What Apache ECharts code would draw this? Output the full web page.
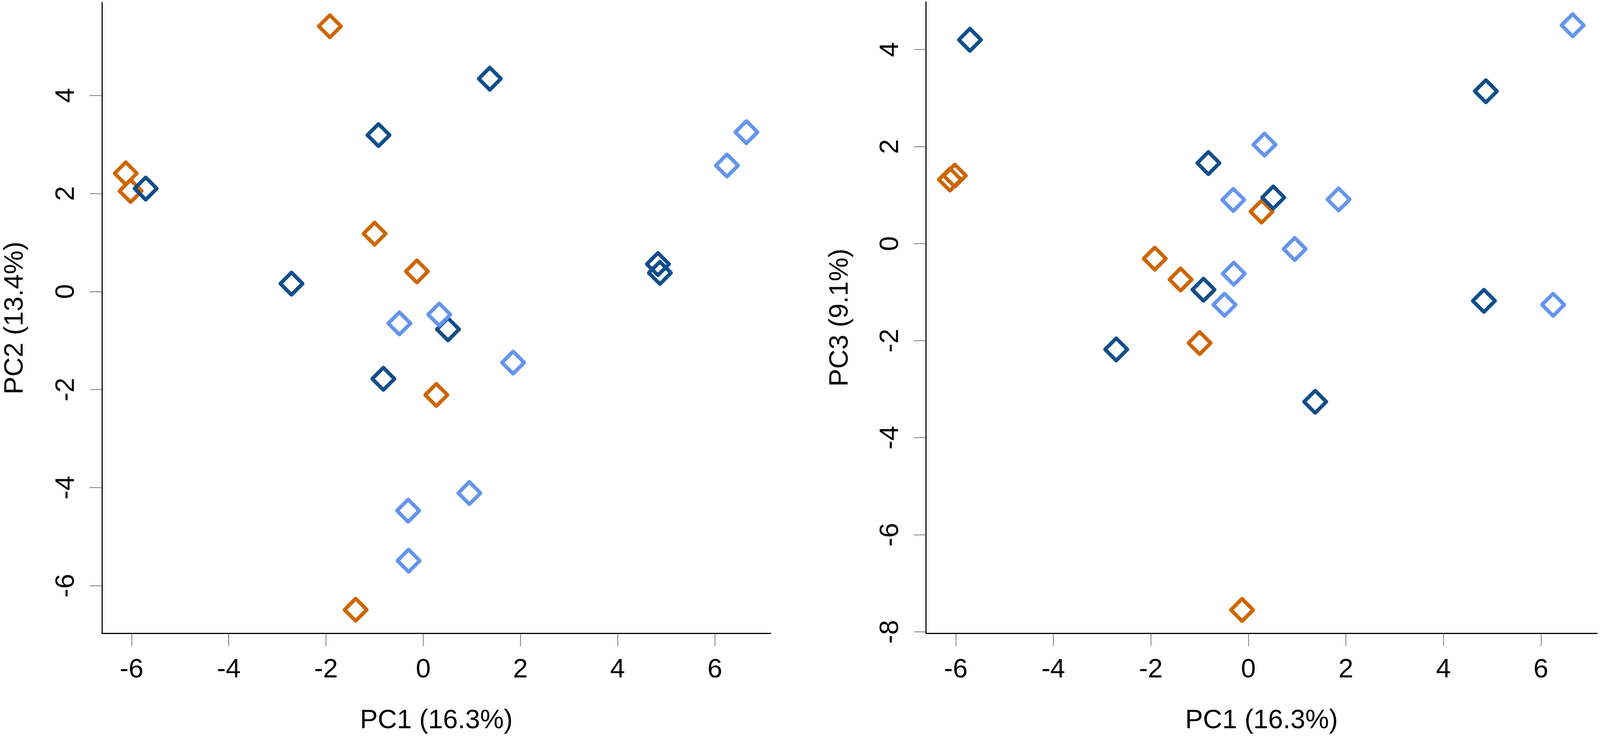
<!DOCTYPE html>
<html>
<head>
<meta charset="utf-8">
<script src="https://cdn.jsdelivr.net/npm/echarts@6/dist/echarts.min.js"></script>
<style>
  html, body { margin: 0; padding: 0; background: #fff; overflow: hidden; }
  #chart { width: 100vw; height: 100vh; }
</style>
</head>
<body>
<div id="chart"></div>
<script>
// PCA scores, one array per group and component
var orangePC1 = [-6.12, -6.02, -1.92, -1.39, -1.00, -0.13, 0.27];
var orangePC2 = [2.41, 2.05, 5.41, -6.49, 1.18, 0.41, -2.11];
var orangePC3 = [1.32, 1.40, -0.31, -0.74, -2.05, -7.55, 0.66];

var darkPC1 = [1.37, -0.92, -5.71, -2.71, 4.83, 4.87, 0.51, -0.82];
var darkPC2 = [4.34, 3.19, 2.10, 0.16, 0.56, 0.38, -0.77, -1.78];
var darkPC3 = [-3.26, -0.95, 4.20, -2.18, -1.18, 3.14, 0.95, 1.66];

var lightPC1 = [6.65, 6.25, -0.49, 0.33, 1.85, 0.95, -0.31, -0.30];
var lightPC2 = [3.25, 2.57, -0.65, -0.47, -1.45, -4.11, -4.47, -5.49];
var lightPC3 = [4.50, -1.26, -1.26, 2.04, 0.91, -0.11, 0.90, -0.62];

var xTicks = [-6, -4, -2, 0, 2, 4, 6];
var yTicksPC2 = [-6, -4, -2, 0, 2, 4];
var yTicksPC3 = [-8, -6, -4, -2, 0, 2, 4];

var chart = echarts.init(document.getElementById('chart'));

// layout was measured on a 4316x1888 picture, scale it to whatever viewport we get
var sx = chart.getWidth() / 4316;
var sy = chart.getHeight() / 1888;
var s = Math.min(sx, sy);

var font = 'Liberation Sans, Arial, Helvetica, sans-serif';
var fs = 72 * s;

function pairs(xs, ys) {
  var out = [];
  for (var i = 0; i < xs.length; i++) out.push([xs[i], ys[i]]);
  return out;
}

function xAxisOf(idx) {
  return {
    type: 'value', gridIndex: idx, min: -6.61, max: 7.15,
    name: 'PC1 (16.3%)', nameLocation: 'middle', nameGap: 190 * sy,
    nameTextStyle: { fontFamily: font, fontSize: fs, color: '#000' },
    axisLine: { show: true, onZero: false, lineStyle: { color: '#000', width: 3 * s } },
    axisTick: { show: true, length: 33 * sy, customValues: xTicks, lineStyle: { color: '#444', width: 1.5 * s } },
    axisLabel: { customValues: xTicks, margin: 60 * sy, fontFamily: font, fontSize: fs, color: '#000' },
    splitLine: { show: false }
  };
}

function yAxisOf(idx, min, max, ticks, title, gap) {
  return {
    type: 'value', gridIndex: idx, min: min, max: max,
    name: title, nameLocation: 'middle', nameGap: gap * sx,
    nameTextStyle: { fontFamily: font, fontSize: fs, color: '#000' },
    axisLine: { show: true, onZero: false, lineStyle: { color: '#000', width: 3 * s } },
    axisTick: { show: true, length: 33 * sx, customValues: ticks, lineStyle: { color: '#444', width: 1.5 * s } },
    axisLabel: { customValues: ticks, rotate: 90, margin: 60 * sx, fontFamily: font, fontSize: fs, color: '#000' },
    splitLine: { show: false }
  };
}

function group(name, color, xi, xs, ys) {
  return {
    name: name, type: 'scatter', xAxisIndex: xi, yAxisIndex: xi,
    symbol: 'diamond', symbolSize: 60 * s,
    itemStyle: { color: 'rgba(0,0,0,0)', borderColor: color, borderWidth: 10 * s, borderJoin: 'round', opacity: 1 },
    data: pairs(xs, ys)
  };
}

var orange = '#CD6600', dark = '#104E8B', light = '#6495ED';

chart.setOption({
  animation: false,
  backgroundColor: '#fff',
  grid: [
    { left: 275 * sx, top: 7 * sy, width: 1804 * sx, height: 1613 * sy },
    { left: 2498 * sx, top: 5 * sy, width: 1810 * sx, height: 1615 * sy }
  ],
  xAxis: [xAxisOf(0), xAxisOf(1)],
  yAxis: [
    yAxisOf(0, -6.97, 5.89, yTicksPC2, 'PC2 (13.4%)', 198),
    yAxisOf(1, -8.03, 4.98, yTicksPC3, 'PC3 (9.1%)', 196)
  ],
  series: [
    group('orange', orange, 0, orangePC1, orangePC2),
    group('dark', dark, 0, darkPC1, darkPC2),
    group('light', light, 0, lightPC1, lightPC2),
    group('orange', orange, 1, orangePC1, orangePC3),
    group('dark', dark, 1, darkPC1, darkPC3),
    group('light', light, 1, lightPC1, lightPC3)
  ]
});
</script>
</body>
</html>
